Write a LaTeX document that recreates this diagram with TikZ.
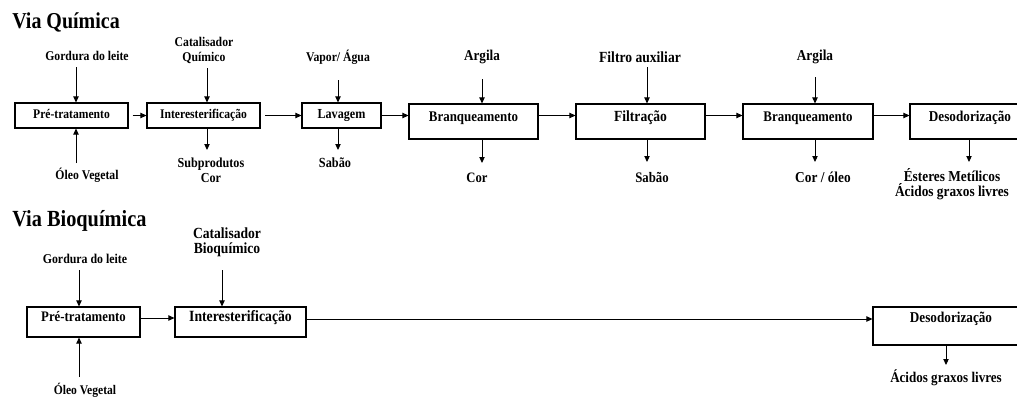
\documentclass[tikz,border=0pt]{standalone}
\usepackage{fontspec}
\setmainfont{Liberation Serif}[FakeStretch=0.88]
\usetikzlibrary{arrows.meta}
\newcommand{\fsz}[1]{\fontsize{\fpeval{1.136*#1}}{11.25}\selectfont\bfseries}
\tikzset{
  tag/.style={inner sep=0pt, align=center, font=\fsz{#1}},
  tag/.default=8.8,
  stage/.style={draw, line width=0.8pt, inner sep=0pt},
  lowstage/.style={stage, text height=11.25pt, text depth=7.5pt},
  highstage/.style={stage, text height=12.75pt, text depth=13.5pt},
  flow/.style={-{Triangle[length=4.5pt,width=4pt]}, line width=0.7pt}
}
\begin{document}
\begin{tikzpicture}[x=0.75pt, y=-0.75pt]
  \useasboundingbox (0,0) rectangle (1017,397);
  % Via Quimica
  \node[tag=15, anchor=base west] (title1) at (12,28) {Via Química};
  \node[lowstage, minimum width=84.75pt, font=\fsz{8.7}] (pre1) at (71.5,115.5) {Pré-tratamento};
  \node[lowstage, minimum width=84.75pt, font=\fsz{8.7}] (int1) at (203.5,115.5) {Interesterificação};
  \node[lowstage, minimum width=59.25pt, font=\fsz{9.1}] (lav1) at (341.5,115.5) {Lavagem};
  \node[highstage, minimum width=96.75pt, font=\fsz{9.7}] (bra1) at (473.5,121.5) {Branqueamento};
  \node[highstage, minimum width=96.75pt, font=\fsz{10.2}] (fil1) at (640.5,121.5) {Filtração};
  \node[highstage, minimum width=97.5pt, font=\fsz{9.7}] (bra2) at (808,121.5) {Branqueamento};
  \node[highstage, minimum width=90pt, font=\fsz{9.9}] (des1) at (970,121.5) {Desodorização};
  \node[tag] (gord1) at (87,56) {Gordura do leite};
  \node[tag] (oleo1) at (87,175) {Óleo Vegetal};
  \node[tag] (cat1) at (204,50) {Catalisador\\Químico};
  \node[tag=9.1] (sub1) at (211,170) {Subprodutos\\Cor};
  \node[tag] (vap1) at (338,57) {Vapor/ Água};
  \node[tag=9.2] (sab1) at (335,163) {Sabão};
  \node[tag=9.9] (arg1) at (482,57) {Argila};
  \node[tag=9.5] (cor1) at (477,178) {Cor};
  \node[tag=10.2] (fau1) at (640,57) {Filtro auxiliar};
  \node[tag=9.6] (sab2) at (652,177) {Sabão};
  \node[tag=10] (arg2) at (815,57) {Argila};
  \node[tag=10] (cor2) at (823,177) {Cor / óleo};
  \node[tag=10] (est1) at (952,184.5) {Ésteres Metílicos\\Ácidos graxos livres};
  \draw[flow, shorten <=3pt] (pre1.east) -- (int1.west);
  \draw[flow, shorten <=3.5pt] (int1.east) -- (lav1.west);
  \draw[flow] (lav1.east) -- (lav1.east -| bra1.west);
  \draw[flow] ([yshift=4.5pt]bra1.east) -- ([yshift=4.5pt]fil1.west);
  \draw[flow] ([yshift=4.5pt]fil1.east) -- ([yshift=4.5pt]bra2.west);
  \draw[flow] ([yshift=4.5pt]bra2.east) -- ([yshift=4.5pt]des1.west);
  \coordinate (gord1in) at (76,67);
  \coordinate (oleo1in) at (76,163);
  \coordinate (cat1in) at (207,68);
  \coordinate (vap1in) at (338,80);
  \coordinate (arg1in) at (482,79);
  \coordinate (fau1in) at (647,67);
  \coordinate (arg2in) at (815,77);
  \draw[flow] (gord1in) -- (gord1in |- pre1.north);
  \draw[flow] (oleo1in) -- (oleo1in |- pre1.south);
  \draw[flow] (cat1in) -- (cat1in |- int1.north);
  \draw[flow] (vap1in) -- (vap1in |- lav1.north);
  \draw[flow] (arg1in) -- (arg1in |- bra1.north);
  \draw[flow] (fau1in) -- (fau1in |- fil1.north);
  \draw[flow] (arg2in) -- (arg2in |- bra2.north);
  \coordinate (sub1out) at (207,150);
  \coordinate (sab1out) at (338,150);
  \coordinate (cor1out) at (482,163);
  \coordinate (sab2out) at (647,162);
  \coordinate (cor2out) at (815,162);
  \coordinate (est1out) at (969,162);
  \draw[flow] (sub1out |- int1.south) -- (sub1out);
  \draw[flow] (sab1out |- lav1.south) -- (sab1out);
  \draw[flow] (cor1out |- bra1.south) -- (cor1out);
  \draw[flow] (sab2out |- fil1.south) -- (sab2out);
  \draw[flow] (cor2out |- bra2.south) -- (cor2out);
  \draw[flow] (est1out |- des1.south) -- (est1out);
  % Via Bioquimica
  \node[tag=15.25, anchor=base west] (title2) at (12,226) {Via Bioquímica};
  \node[stage, text height=10.5pt, text depth=12pt, minimum width=84.75pt, font=\fsz{9.6}] (pre2) at (83.5,322) {Pré-tratamento};
  \node[stage, text height=10.5pt, text depth=12pt, minimum width=98.25pt, font=\fsz{10.3}] (int2) at (240.5,322) {Interesterificação};
  \node[stage, text height=11.25pt, text depth=17.25pt, minimum width=117pt, font=\fsz{9.9}] (des2) at (951,326) {Desodorização};
  \node[tag=8.9] (gord2) at (85,259) {Gordura do leite};
  \node[tag=8.7] (oleo2) at (85,390) {Óleo Vegetal};
  \node[tag=10.2] (cat2) at (227,242.5) {Catalisador\\Bioquímico};
  \node[tag=9.8] (aci2) at (946,378) {Ácidos graxos livres};
  \draw[flow] ([yshift=3pt]pre2.east) -- ([yshift=3pt]int2.west);
  \draw[flow] ([yshift=2.25pt]int2.east) -- ([yshift=2.25pt]int2.east -| des2.west);
  \coordinate (gord2in) at (79,270);
  \coordinate (oleo2in) at (79,377);
  \coordinate (cat2in) at (222,270);
  \coordinate (aci2out) at (946,365);
  \draw[flow] (gord2in) -- (gord2in |- pre2.north);
  \draw[flow] (oleo2in) -- (oleo2in |- pre2.south);
  \draw[flow] (cat2in) -- (cat2in |- int2.north);
  \draw[flow] (aci2out |- des2.south) -- (aci2out);
\end{tikzpicture}
\end{document}
